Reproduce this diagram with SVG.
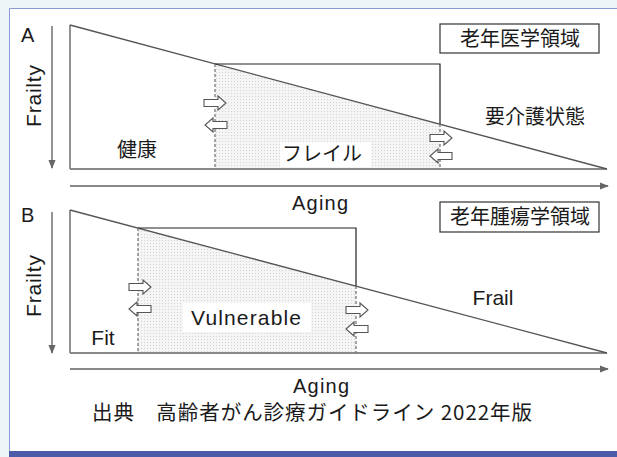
<svg xmlns="http://www.w3.org/2000/svg" width="617" height="457" viewBox="0 0 617 457">
<defs>
<style>
.lat{font-family:"Liberation Sans","Noto Sans",Arial,sans-serif;fill:#1a1a1a}
.jp{font-family:"Noto Sans CJK JP","Noto Sans",sans-serif;fill:#1a1a1a}
.edge{stroke:#555;stroke-width:1.3;fill:none}
.base{stroke:#888;stroke-width:2;fill:none}
.axis{stroke:#888;stroke-width:1.8;fill:none}
.dash{stroke:#777;stroke-width:1.3;stroke-dasharray:3 2;fill:none}
.solid{stroke:#222;stroke-width:1.2;fill:none}
.barr{fill:#fff;stroke:#555;stroke-width:1.1}
.box{fill:#fff;stroke:#333;stroke-width:1.2}
</style>
<pattern id="dots" width="3" height="3" patternUnits="userSpaceOnUse">
<rect width="3" height="3" fill="#f5f5f5"/>
<rect width="1" height="1" fill="#d4d4d4"/>
</pattern>
<marker id="ah" viewBox="0 0 10 10" refX="9" refY="5" markerWidth="5" markerHeight="5" orient="auto">
<path d="M0,1 L10,5 L0,9 Z" fill="#666"/>
</marker>
<path id="rarr" d="M-11,-3.5 H3 V-7 L11,0 L3,7 V3.5 H-11 Z"/>
<path id="larr" d="M11,-3.5 H-3 V-7 L-11,0 L-3,7 V3.5 H11 Z"/>
</defs>
<rect width="617" height="457" fill="#eef5f8"/>
<rect x="9" y="8" width="608" height="445" fill="#fff"/>
<path d="M9.5,457 V8.5 H617" stroke="#8a9ad6" stroke-width="1" fill="none"/>
<rect x="9" y="451" width="608" height="6" fill="#4b5ba8"/>

<g id="panelA">
<text class="lat" x="21" y="42" font-size="20">A</text>
<text class="lat" font-size="21" transform="translate(41,96) rotate(-90)" text-anchor="middle" textLength="62">Frailty</text>
<line class="axis" x1="52" y1="26" x2="52" y2="168" marker-end="url(#ah)"/>
<polygon points="215,64 440,124 440,169 215,169" fill="url(#dots)"/>
<line class="edge" x1="70" y1="25" x2="70" y2="169"/>
<line class="base" x1="70" y1="169" x2="607" y2="169"/>
<line class="edge" x1="70" y1="25" x2="607" y2="169"/>
<polyline class="solid" points="215,64 440,64 440,124"/>
<line class="dash" x1="215" y1="64" x2="215" y2="169"/>
<line class="dash" x1="440" y1="124" x2="440" y2="169"/>
<use href="#rarr" class="barr" x="215" y="103"/>
<use href="#larr" class="barr" x="216" y="125"/>
<use href="#rarr" class="barr" x="441" y="138"/>
<use href="#larr" class="barr" x="441" y="156"/>
<text class="jp" x="137" y="157" font-size="20" text-anchor="middle">健康</text>
<rect x="280" y="142" width="91" height="25" fill="#fff"/>
<text class="jp" x="322" y="161" font-size="20" text-anchor="middle">フレイル</text>
<text class="jp" x="535" y="124" font-size="20" text-anchor="middle">要介護状態</text>
<rect class="box" x="440" y="24" width="159" height="29"/>
<text class="jp" x="520" y="45.5" font-size="20" text-anchor="middle">老年医学領域</text>
<line class="axis" x1="70" y1="186" x2="608" y2="186" marker-end="url(#ah)"/>
<text class="lat" x="320" y="210" font-size="20" text-anchor="middle" textLength="56">Aging</text>
</g>

<g id="panelB">
<text class="lat" x="21" y="222" font-size="20">B</text>
<text class="lat" font-size="21" transform="translate(41,286) rotate(-90)" text-anchor="middle" textLength="62">Frailty</text>
<line class="axis" x1="52" y1="212" x2="52" y2="353" marker-end="url(#ah)"/>
<polygon points="138,228 356,286 356,353 138,353" fill="url(#dots)"/>
<line class="edge" x1="70" y1="210" x2="70" y2="353"/>
<line class="base" x1="70" y1="353" x2="607" y2="353"/>
<line class="edge" x1="70" y1="210" x2="607" y2="353"/>
<polyline class="solid" points="138,228 356,228 356,286"/>
<line class="dash" x1="138" y1="228" x2="138" y2="353"/>
<line class="dash" x1="356" y1="286" x2="356" y2="353"/>
<use href="#rarr" class="barr" x="140" y="287"/>
<use href="#larr" class="barr" x="140" y="309"/>
<use href="#rarr" class="barr" x="357" y="310"/>
<use href="#larr" class="barr" x="357" y="329"/>
<text class="lat" x="103" y="345" font-size="21" text-anchor="middle">Fit</text>
<rect x="183" y="303" width="128" height="29" fill="#fff"/>
<text class="lat" x="246" y="325" font-size="21" text-anchor="middle" textLength="110">Vulnerable</text>
<text class="lat" x="493" y="305" font-size="21" text-anchor="middle">Frail</text>
<rect class="box" x="440" y="202" width="159" height="30"/>
<text class="jp" x="520" y="224" font-size="20" text-anchor="middle">老年腫瘍学領域</text>
<line class="axis" x1="70" y1="369" x2="608" y2="369" marker-end="url(#ah)"/>
<text class="lat" x="321" y="393" font-size="20" text-anchor="middle" textLength="56">Aging</text>
</g>

<text class="jp" x="312" y="420" font-size="20.5" text-anchor="middle" textLength="440">出典　高齢者がん診療ガイドライン 2022年版</text>
</svg>
